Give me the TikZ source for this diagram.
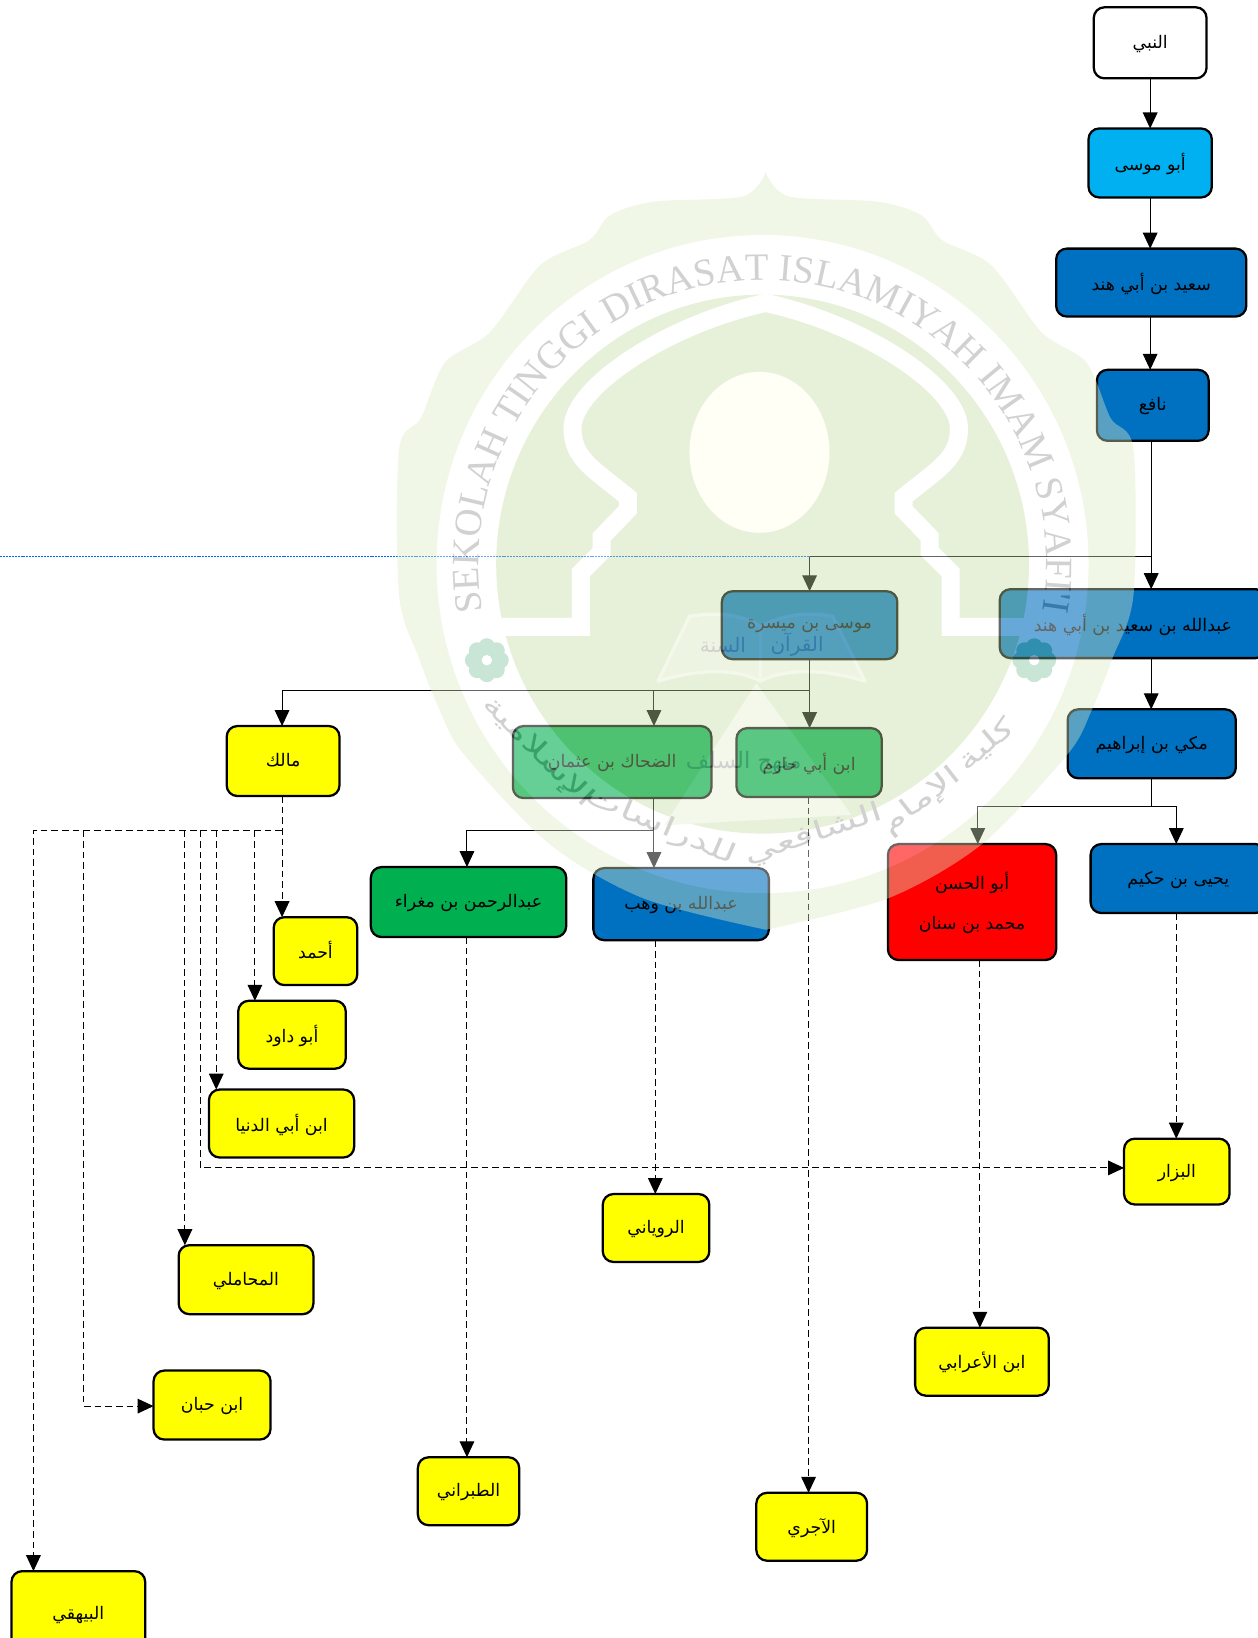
\documentclass[tikz,border=0pt]{standalone}
\usepackage{fontspec}
\usetikzlibrary{arrows.meta,decorations.text}
\TeXXeTstate=1
\newfontfamily\arabicfont[Script=Arabic]{DejaVu Sans}
\newfontfamily\wmfont{Liberation Serif}
\newcommand{\arb}[1]{{\arabicfont\beginR #1\endR}}
\newcommand{\wide}[1]{\scalebox{1.5}[1]{\arb{#1}}}
\definecolor{cyanbox}{HTML}{00B0F0}
\definecolor{bluebox}{HTML}{0070C0}
\definecolor{greenbox}{HTML}{00B050}
\definecolor{redbox}{HTML}{FF0000}
\definecolor{yellowbox}{HTML}{FFFF00}
\definecolor{wmouter}{RGB}{222,235,197}
\definecolor{wminner}{RGB}{197,221,163}
\definecolor{wmtext}{RGB}{140,140,140}
\definecolor{wmflower}{RGB}{120,190,150}
\definecolor{wmsun}{RGB}{255,255,232}
\definecolor{wmmount}{RGB}{225,238,205}
\definecolor{wmpage}{RGB}{212,230,184}
\tikzset{
  box/.style={draw=black,rounded corners=8pt,line width=1.7pt,inner sep=0pt,outer sep=0pt,font=\fontsize{13}{16}\selectfont,align=center,text depth=1.5pt},
  link/.style={line width=0.8pt,draw=black},
  arr/.style={-{Triangle[length=12pt,width=11pt]}},
  dsh/.style={line width=0.8pt,draw=black,dash pattern=on 5pt off 3pt},
  guide/.style={line width=0.5pt,draw=blue!60!cyan,dash pattern=on 1.5pt off 0.7pt},
  wmband/.style={draw=white,line width=13.5pt,line join=miter},
  wmword/.style={text=wmtext,font=\fontsize{20}{20}\selectfont,inner sep=0pt},
}
\newcommand{\bx}[7]{%
  \pgfmathsetmacro\mybw{(#5-#3)*0.7836}%
  \pgfmathsetmacro\mybh{(#6-#4)*0.7836}%
  \pgfmathsetmacro\mybx{(#5+#3)/2}%
  \pgfmathsetmacro\myby{(#6+#4)/2}%
  \node[box,fill=#2,minimum width=\mybw pt,minimum height=\mybh pt] (#1) at (\mybx,\myby) {#7};%
}
\begin{document}
\begin{tikzpicture}[x=0.7836pt,y=-0.7836pt]
\fill[white] (0,0) rectangle (1204,1568);
\path[use as bounding box] (0,0) rectangle (1204,1568);
% boxes
\bx{nabi}{white}{1047}{7}{1155}{75}{\arb{النبي}}
\bx{abumusa}{cyanbox}{1042}{123}{1160}{189}{\arb{أبو موسى}}
\bx{saeed}{bluebox}{1011}{238}{1193}{303}{\arb{سعيد بن أبي هند}}
\bx{nafi}{bluebox}{1050}{354}{1157}{422}{\arb{نافع}}
\bx{abd}{bluebox}{957}{564}{1212}{630}{\arb{عبدالله بن سعيد بن أبي هند}}
\bx{musa}{bluebox}{691}{566}{859}{631}{\arb{موسى بن ميسرة}}
\bx{makki}{bluebox}{1022}{679}{1183}{745}{\arb{مكي بن إبراهيم}}
\bx{hazim}{greenbox}{705}{697}{844}{763}{\arb{ابن أبي حازم}}
\bx{dahhak}{greenbox}{491}{695}{681}{764}{\arb{الضحاك بن عثمان}}
\bx{malik}{yellowbox}{217}{695}{325}{762}{\arb{مالك}}
\bx{hasan}{redbox}{850}{808}{1011}{919}{\arb{أبو الحسن}\\[14pt]\arb{محمد بن سنان}}
\bx{yahya}{bluebox}{1044}{808}{1212}{874}{\arb{يحيى بن حكيم}}
\bx{wahb}{bluebox}{568}{831}{736}{900}{\arb{عبدالله بن وهب}}
\bx{rahman}{greenbox}{355}{830}{542}{897}{\arb{عبدالرحمن بن مغراء}}
\bx{ahmad}{yellowbox}{262}{878}{342}{943}{\arb{أحمد}}
\bx{abudawud}{yellowbox}{228}{958}{331}{1023}{\arb{أبو داود}}
\bx{dunya}{yellowbox}{200}{1043}{339}{1108}{\arb{ابن أبي الدنيا}}
\bx{bazzar}{yellowbox}{1076}{1090}{1177}{1153}{\arb{البزار}}
\bx{ruyani}{yellowbox}{577}{1143}{679}{1208}{\arb{الروياني}}
\bx{mahamili}{yellowbox}{171}{1192}{300}{1258}{\arb{المحاملي}}
\bx{arabi}{yellowbox}{876}{1271}{1004}{1336}{\arb{ابن الأعرابي}}
\bx{hibban}{yellowbox}{147}{1312}{259}{1378}{\arb{ابن حبان}}
\bx{tabarani}{yellowbox}{400}{1395}{497}{1460}{\arb{الطبراني}}
\bx{ajurri}{yellowbox}{724}{1429}{830}{1494}{\arb{الآجري}}
\bx{bayhaqi}{yellowbox}{11}{1504}{139}{1585}{\arb{البيهقي}}
% guide line
\coordinate (gstart) at (0,533);
\coordinate (j1) at (1102,533);
\coordinate (j2) at (775,533);
\draw[guide] (gstart) -- (j2);
% solid links
\draw[link,arr] (nabi.south) -- (abumusa.north);
\draw[link,arr] (abumusa.south) -- (abumusa.south |- saeed.north);
\draw[link,arr] (abumusa.south |- saeed.south) -- (abumusa.south |- nafi.north);
\draw[link,arr] (j1 |- nafi.south) -- (j1 |- abd.north);
\draw[link] (j1) -- (j2);
\draw[link,arr] (j2) -- (j2 |- musa.north);
\draw[link,arr] (j2 |- musa.south) -- (j2 |- hazim.north);
\coordinate (k1) at (775,661);
\coordinate (k2) at (626,661);
\coordinate (k3) at (270,661);
\draw[link,arr] (k1) -- (k3) -- (k3 |- malik.north);
\draw[link,arr] (k2) -- (k2 |- dahhak.north);
\draw[link,arr] (j1 |- abd.south) -- (j1 |- makki.north);
\coordinate (m1) at (1102,772);
\coordinate (m2) at (936,772);
\coordinate (m3) at (1126,772);
\draw[link] (j1 |- makki.south) -- (m1);
\draw[link,arr] (m1) -- (m2) -- (m2 |- hasan.north);
\draw[link,arr] (m1) -- (m3) -- (m3 |- yahya.north);
\coordinate (d1) at (626,795);
\coordinate (d2) at (447,795);
\draw[link,arr] (d1 |- dahhak.south) -- (d1 |- wahb.north);
\draw[link,arr] (d1) -- (d2) -- (d2 |- rahman.north);
% dashed links
\coordinate (t0) at (270,795);
\coordinate (tleft) at (32,795);
\coordinate (tdawud) at (244,795);
\coordinate (tdunya) at (207,795);
\coordinate (tbazzar) at (192,795);
\coordinate (tmaham) at (177,795);
\coordinate (thibban) at (80,795);
\coordinate (bzr) at (192,1118);
\coordinate (hib) at (80,1346);
\draw[dsh,arr] (t0 |- malik.south) -- (t0 |- ahmad.north);
\draw[dsh,arr] (t0) -- (tleft) -- (tleft |- bayhaqi.north);
\draw[dsh,arr] (tdawud) -- (tdawud |- abudawud.north);
\draw[dsh,arr] (tdunya) -- (tdunya |- dunya.north);
\draw[dsh,arr] (tbazzar) -- (bzr) -- (bzr -| bazzar.west);
\draw[dsh,arr] (tmaham) -- (tmaham |- mahamili.north);
\draw[dsh,arr] (thibban) -- (hib) -- (hib -| hibban.west);
\coordinate (y1) at (1126,880);
\coordinate (a1) at (938,880);
\coordinate (w1) at (627.3,880);
\coordinate (r1) at (447,880);
\coordinate (h1) at (774,880);
\draw[dsh,arr] (y1 |- yahya.south) -- (y1 |- bazzar.north);
\draw[dsh,arr] (a1 |- hasan.south) -- (a1 |- arabi.north);
\draw[dsh,arr] (w1 |- wahb.south) -- (w1 |- ruyani.north);
\draw[dsh,arr] (r1 |- rahman.south) -- (r1 |- tabarani.north);
\draw[dsh,arr] (h1 |- hazim.south) -- (h1 |- ajurri.north);
% watermark
\begin{scope}[transparency group,opacity=0.4]
  \fill[wmouter] plot[smooth,tension=0.5] coordinates {(733,165) (755,188) (840,193) (882,206) (902,230) (949,254) (997,318) (1040,347) (1063,400) (1085,430) (1085,570) (1065,630) (1045,680) (1022,722) (940,808) (850,860) (733,890)}
    -- plot[smooth,tension=0.5] coordinates {(733,890) (616,860) (526,808) (444,722) (421,680) (401,630) (382,570) (382,430) (403,400) (426,347) (469,318) (517,254) (564,230) (584,206) (626,193) (711,188) (733,165)} -- cycle;
  \fill[white] (730,540) circle [x radius=312,y radius=315];
  \fill[wminner] (730,540) circle [x radius=255,y radius=258];
  \fill[wmmount] (724,654) -- (636,790) -- (815,780) -- cycle;
  \fill[wmsun] (727,433) circle [x radius=67,y radius=77];
  \draw[wmband] (480,600) -- (556,600) -- (556,548) -- (576,528) -- (576,514) -- (601,488) -- (601,476)
     .. controls (570,450) and (548,440) .. (548,410) .. controls (548,370) and (640,310) .. (733,290)
     .. controls (826,310) and (918,370) .. (918,410) .. controls (918,440) and (896,450) .. (865,476)
     -- (865,488) -- (890,514) -- (890,528) -- (910,548) -- (910,600) -- (986,600);
  \filldraw[fill=wmpage,draw=wmmount,line width=2.5pt,line join=round] (630,652) -- (660,590) .. controls (690,585) and (715,590) .. (728,600) .. controls (745,590) and (770,585) .. (797,590) -- (828,652) .. controls (790,640) and (750,640) .. (728,652) .. controls (705,640) and (670,640) .. (630,652) -- cycle (728,600) -- (728,652);
  \node[wmword,font=\fontsize{15}{15}\selectfont] (wq) at (763,617) {\arb{القرآن}};
  \node[wmword,font=\fontsize{15}{15}\selectfont] (ws) at (692,617) {\arb{السنة}};
  \node[wmword,font=\fontsize{17}{17}\selectfont] (wm) at (712,730) {\arb{منهج السلف}};
  \foreach \fx/\fn in {466/a,990/b}{
    \foreach \fa in {0,45,...,315}{\fill[wmflower] (\fx,632) ++(\fa:13) circle [radius=8];}
    \fill[wmflower] (\fx,632) circle [radius=12];
    \fill[white] (\fx,632) circle [radius=5];
  }
  \path[decorate,decoration={text along path,text align=center,text={|\wmfont\fontsize{29}{29}\selectfont\color{wmtext}|SEKOLAH TINGGI DIRASAT ISLAMIYAH IMAM SYAFI'I}}]
     plot[domain=230:-50,samples=100,smooth] ({730+272*cos(\x)},{540-272*sin(\x)});
  \node[wmword,rotate=40] (w1a) at (944,713) {\wide{كلية}};
  \node[wmword,rotate=38] (w2a) at (882,767) {\wide{الإمام}};
  \node[wmword,rotate=18] (w3a) at (779,799) {\wide{الشافعي}};
  \node[wmword,rotate=-23] (w4a) at (632,791) {\wide{للدراسات}};
  \node[wmword,rotate=-45] (w5a) at (515,720) {\wide{الإسلامية}};
\end{scope}
\end{tikzpicture}
\end{document}
